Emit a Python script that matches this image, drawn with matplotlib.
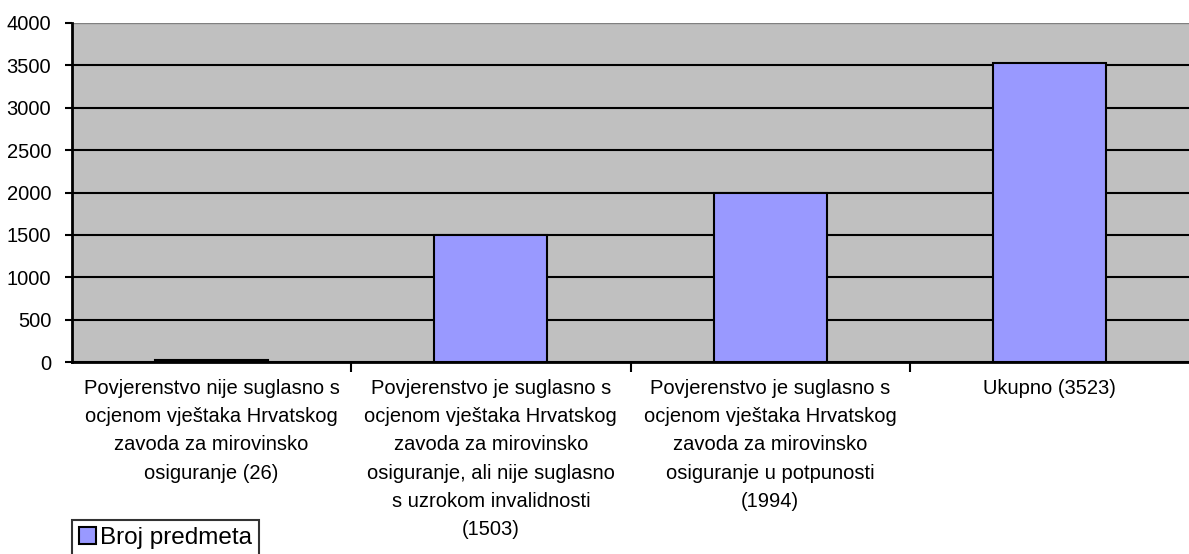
import matplotlib.pyplot as plt
import numpy as np

# podaci
kategorije = [
    "Povjerenstvo nije suglasno s\nocjenom vještaka Hrvatskog\nzavoda za mirovinsko\nosiguranje (26)",
    "Povjerenstvo je suglasno s\nocjenom vještaka Hrvatskog\nzavoda za mirovinsko\nosiguranje, ali nije suglasno\ns uzrokom invalidnosti\n(1503)",
    "Povjerenstvo je suglasno s\nocjenom vještaka Hrvatskog\nzavoda za mirovinsko\nosiguranje u potpunosti\n(1994)",
    "Ukupno (3523)",
]
broj_predmeta = [26, 1503, 1994, 3523]
y_ticks = [0, 500, 1000, 1500, 2000, 2500, 3000, 3500, 4000]

plt.rcParams['font.family'] = ['Liberation Sans', 'DejaVu Sans']

fig = plt.figure(figsize=(11.89, 5.54), dpi=100)
ax = fig.add_axes([72 / 1189, 1 - 362 / 554, 1 - 72 / 1189, 339 / 554])
ax.set_facecolor('#C0C0C0')

x = np.arange(len(kategorije))
ax.bar(x, broj_predmeta, width=0.405, color='#9999FF', edgecolor='black',
       linewidth=1.5, label='Broj predmeta', zorder=3)

ax.set_xlim(-0.5, len(kategorije) - 0.5)
ax.set_ylim(0, 4000)
ax.set_yticks(y_ticks)
ax.yaxis.grid(True, color='black', linewidth=1.5, zorder=0)
ax.set_axisbelow(True)

# oznake kategorija
ax.set_xticks(x)
ax.set_xticklabels(kategorije, fontsize=14.5, linespacing=1.62, va='top')
ax.tick_params(axis='x', which='major', length=0, pad=12)
ax.set_xticks(np.arange(0.5, len(kategorije) - 0.5, 1), minor=True)
ax.tick_params(axis='x', which='minor', length=7, width=1.5, color='black')
ax.tick_params(axis='y', length=5, width=1.5, labelsize=14.5, pad=10)

for s in ['top', 'right']:
    ax.spines[s].set_visible(False)
ax.spines['left'].set_linewidth(2)
ax.spines['bottom'].set_linewidth(2)
ax.axhline(4000, color='#808080', linewidth=1.5, zorder=1)

leg = fig.legend(loc='upper left', bbox_to_anchor=(72 / 1189, 1 - 520 / 554),
                 fontsize=17.5, frameon=True, fancybox=False, edgecolor='black',
                 handlelength=0.7, handleheight=0.7, handletextpad=0.15,
                 borderpad=0.3, borderaxespad=0)
leg.get_frame().set_linewidth(1.5)

fig.savefig('out.png', dpi=100)
